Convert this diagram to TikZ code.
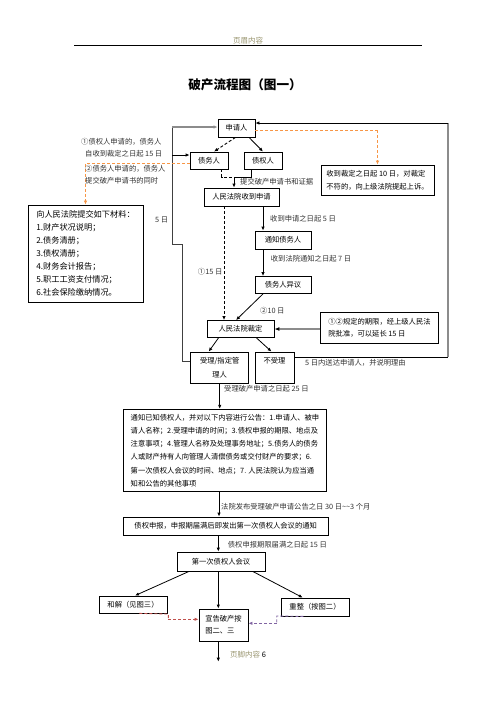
\documentclass[tikz,border=0pt]{standalone}
\usepackage{fontspec}
\setmainfont{Noto Sans CJK SC}
\usetikzlibrary{arrows.meta,calc}
\definecolor{hdr}{HTML}{9A9670}
\definecolor{orangeL}{HTML}{F79646}
\definecolor{redL}{HTML}{C0504D}
\definecolor{purpL}{HTML}{8064A2}
\begin{document}
\begin{tikzpicture}[x=1pt,y=-1pt,
  >={Latex[length=4pt,width=3.4pt]},
  box/.style={draw, line width=0.8pt, inner sep=0pt, font=\fontsize{7.3}{13.3}\selectfont, align=center},
  lbl/.style={inner sep=0pt, font=\fontsize{7.3}{9}\selectfont, text=black!80, anchor=west},
  ln/.style={line width=0.8pt},
  gln/.style={line width=1.5pt, draw=black!45},
  lln/.style={line width=1pt, draw=black!75},
  odash/.style={line width=0.9pt, draw=orangeL, dash pattern=on 3pt off 2pt},
  rdash/.style={line width=0.9pt, draw=redL, dash pattern=on 3pt off 2pt},
  pdash/.style={line width=0.9pt, draw=purpL, dash pattern=on 3pt off 2pt},
  kdash/.style={line width=0.9pt, dash pattern=on 3pt off 2pt}
]
\useasboundingbox (0,0) rectangle (496,702);
\fill[white] (0,0) rectangle (496,702);

% header and title
\node[inner sep=0pt, text=hdr, font=\fontsize{7.5}{9}\selectfont] (hd) at (248,41) {页眉内容};
\draw[ln] (74,45) -- (422,45);
\node[inner sep=0pt, font=\fontsize{12.6}{15}\selectfont\bfseries] (title) at (245,85) {破产流程图（图一）};

% boxes
\node[box, minimum width=37, minimum height=18] (sq) at (236.5,128) {申请人};
\node[box, minimum width=38, minimum height=17] (zwr) at (209,160.5) {债务人};
\node[box, minimum width=38, minimum height=17] (zqr) at (263,160.5) {债权人};
\node[box, minimum width=75, minimum height=18] (fysd) at (241.5,197) {人民法院收到申请};
\node[box, minimum width=56, minimum height=18] (tz) at (283,240) {通知债务人};
\node[box, minimum width=56, minimum height=17] (yy) at (283,285) {债务人异议};
\node[box, minimum width=67, minimum height=17] (cd) at (240.5,329) {人民法院裁定};
\node[box, minimum width=58, minimum height=31, font=\fontsize{7.3}{14}\selectfont] (sl) at (219.7,367.5) {受理/指定管\\理人};
\node[box, minimum width=39, minimum height=31, font=\fontsize{7.3}{14}\selectfont] (bsl) at (274.5,367.5) {不受理\\\mbox{}};

\node[box, minimum width=115, minimum height=97, align=left, font=\fontsize{8.2}{13.05}\selectfont] (mat) at (85.5,253.5)
 {向人民法院提交如下材料：\\1.财产状况说明；\\2.债务清册；\\3.债权清册；\\4.财务会计报告；\\5.职工工资支付情况；\\6.社会保险缴纳情况。};

\node[box, minimum width=113, minimum height=30, align=left] (ap) at (377.5,180)
 {收到裁定之日起 10 日，对裁定\\不符的，向上级法院提起上诉。};

\node[box, minimum width=117.6, minimum height=31, align=left, font=\fontsize{7.3}{11.8}\selectfont] (ext) at (379.5,327.5)
 {①②规定的期限，经上级人民法\\院批准，可以延长 15 日};

\node[box, minimum width=203.4, minimum height=82.4, align=left] (nt) at (225,450.5)
 {通知已知债权人，并对以下内容进行公告：1.申请人、被申\\
  请人名称；2.受理申请的时间；3.债权申报的期限、地点及\\
  注意事项；4.管理人名称及处理事务地址；5.债务人的债务\\
  人或财产持有人向管理人清偿债务或交付财产的要求；6.\\
  第一次债权人会议的时间、地点；7. 人民法院认为应当通\\
  知和公告的其他事项};

\node[box, minimum width=205, minimum height=18] (sb) at (225.7,526)
 {债权申报，申报期届满后即发出第一次债权人会议的通知};
\node[box, minimum width=88, minimum height=19] (hy) at (221,561.5) {第一次债权人会议};
\node[box, minimum width=68, minimum height=17] (hj) at (133,604.5) {和解（见图三）};
\node[box, minimum width=49, minimum height=32, align=left, font=\fontsize{7.3}{12.3}\selectfont] (xg) at (223.5,625) {宣告破产按\\图二、三};
\node[box, minimum width=68, minimum height=18] (cz) at (315,607) {重整（按图二）};

% coordinates
\coordinate (j) at (234,177);
\coordinate (lc1) at (182,361.7);
\coordinate (lc2) at (182,244);
\coordinate (lc3) at (172,244);
\coordinate (lc4) at (172,127);
\coordinate (lc5) at (172,155);
\coordinate (rc1) at (448,357);
\coordinate (rc2) at (448,123);
\coordinate (oc1) at (377.5,130);
\coordinate (r1) at (168.3,614);
\coordinate (r2) at (168.3,619.3);
\coordinate (p1) at (276.7,616);
\coordinate (p2) at (276.7,623.3);
\coordinate (endp) at (218.3,661.7);

% connectors top
\draw[kdash,->] ([xshift=-1pt]sq.south) -- ([xshift=5pt]zwr.north);
\draw[ln,->] ([xshift=12.5pt]sq.south) -- (zqr.north);
\draw[kdash] ([xshift=12.7pt]zwr.south) |- (j);
\draw[ln] ([xshift=-11.3pt]zqr.south) |- (j);
\draw[ln,->] (j) -- (j |- fysd.north);
\node[lbl] (l1) at (240,181.5) {提交破产申请书和证据};

\draw[ln,->] ([xshift=21.5pt]fysd.south) -- ([xshift=-20pt]tz.north);
\node[lbl] (l2) at (270,219) {收到申请之日起 5 日};
\draw[ln,->] ([xshift=-20pt]tz.south) -- ([xshift=-20pt]yy.north);
\node[lbl] (l3) at (270.7,259) {收到法院通知之日起 7 日};
\draw[ln,->] ([xshift=-20pt]yy.south) -- ([xshift=-4.5pt]cd.north);
\node[lbl] (l4) at (260,311) {②10 日};
\draw[kdash,->] ([xshift=-17.5pt]fysd.south) -- ([xshift=-17.5pt]fysd.south |- cd.north);
\node[lbl, anchor=east] (l5) at (222.5,272) {①15 日};

\draw[gln,-{Latex[length=5pt,width=4pt,color=black]}] (ext.west |- cd.east) -- (cd.east);

\draw[ln,->] ([xshift=-22pt]cd.south) -- ([xshift=-11pt]sl.north);
\draw[ln,->] ([xshift=16pt]cd.south) -- ([xshift=-3pt]bsl.north);

% right loop
\draw[ln] ([yshift=10.5pt]bsl.east) -- (rc1);
\draw[gln] (rc1) -- (rc2);
\draw[ln,->] (rc2) -- ([yshift=5pt]sq.east);
\node[lbl] (l6) at (305,363.3) {5 日内送达申请人，并说明理由};

% left loop
\draw[lln] ([yshift=5.8pt]sl.west) -- (lc1) -- (lc2) -- (lc3) -- (lc4);
\draw[gln,->] (lc4) -- ([yshift=1pt]sq.west);
\draw[ln,->] (lc5) -- ([yshift=5.5pt]zwr.west);
\node[lbl] (l7) at (155,220) {5 日};

% orange dashed
\draw[odash] ([yshift=-2pt]sq.east) -- (oc1);
\draw[odash,-{Latex[length=4pt,width=3.4pt,color=orangeL]}] (oc1) -- (ap.north);
\draw[odash,-{Latex[length=4pt,width=3.4pt,color=orangeL]}] ([yshift=-2.5pt]zwr.west) -| (mat.north);
\node[lbl] (l8) at (81,142) {①债权人申请的，债务人};
\node[lbl] (l9) at (85,154) {自收到裁定之日起 15 日};
\node[lbl] (l10) at (85,169) {②债务人申请的，债务人};
\node[lbl] (l11) at (85,181) {提交破产申请书的同时};

% lower part
\draw[ln,->] (sl.south) -- (sl.south |- nt.north);
\node[lbl] (l12) at (224,389) {受理破产申请之日起 25 日};
\draw[ln,->] ([xshift=-6pt]nt.south) -- ([xshift=-6pt]nt.south |- sb.north);
\node[lbl] (l13) at (221,506.7) {法院发布受理破产申请公告之日 30 日\textasciitilde\textasciitilde 3 个月};
\draw[ln,->] ([xshift=-7.4pt]sb.south) -- ([xshift=-7.4pt]sb.south |- hy.north);
\node[lbl] (l14) at (227.7,545) {债权申报期限届满之日起 15 日};

\draw[ln,->] ([xshift=-32pt]hy.south) -- ([xshift=2pt]hj.north);
\draw[ln,->] ([xshift=-2.7pt]hy.south) -- ([xshift=-2.7pt]hy.south |- xg.north);
\draw[ln,->] ([xshift=31.7pt]hy.south) -- ([xshift=-12.3pt]cz.north);

\draw[rdash] ([xshift=6.3pt]hj.south) -- (r1) -- (r2);
\draw[rdash,-{Latex[length=4pt,width=3.4pt,color=redL]}] (r2) -- (r2 -| xg.west);
\draw[pdash] ([xshift=-11.7pt]cz.south) -- (p1) -- (p2);
\draw[pdash,-{Latex[length=4pt,width=3.4pt,color=purpL]}] (p2) -- (p2 -| xg.east);

\draw[ln,->] ([xshift=-5.2pt]xg.south) -- (endp);
\node[inner sep=0pt, anchor=west, font=\fontsize{7.5}{9}\selectfont] (ft) at (230,655) {\textcolor{hdr}{页脚内容} 6};
\end{tikzpicture}
\end{document}
